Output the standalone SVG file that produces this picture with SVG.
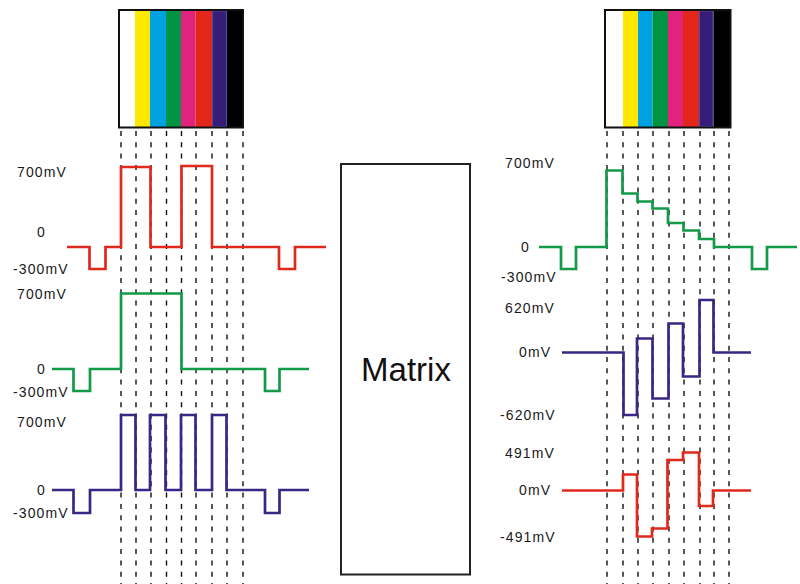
<svg xmlns="http://www.w3.org/2000/svg" width="800" height="584" viewBox="0 0 800 584">
<style>
.lbl{font-family:"Liberation Sans",Arial,sans-serif;font-size:14px;letter-spacing:1.1px;fill:#1a1a1a}
.dash{stroke:#111;stroke-width:1.4;stroke-dasharray:5 6.3;fill:none}
.wave{fill:none;stroke-width:2.7;stroke-linejoin:miter;stroke-linecap:butt}
.red{stroke:#e0281c}
.green{stroke:#129a48}
.purple{stroke:#3a2684}
</style>
<rect width="800" height="584" fill="#fff"/>

<g id="colorbar-left">
<rect x="118" y="10" width="17" height="118" fill="#fff"/>
<rect x="135" y="10" width="15" height="118" fill="#ffe800"/>
<rect x="150" y="10" width="16" height="118" fill="#00a2e2"/>
<rect x="166" y="10" width="15" height="118" fill="#009444"/>
<rect x="181" y="10" width="14.5" height="118" fill="#e2237e"/>
<rect x="195.5" y="10" width="16.5" height="118" fill="#e2261a"/>
<rect x="212.5" y="11" width="14" height="115.5" fill="#361e78" stroke="#4a4ea8" stroke-width="1"/>
<rect x="227" y="10" width="16" height="118" fill="#000"/>
<rect x="119" y="10" width="124" height="117.5" fill="none" stroke="#111" stroke-width="2"/>
</g>

<g id="colorbar-right">
<rect x="604" y="10" width="19" height="118" fill="#fff"/>
<rect x="623" y="10" width="15" height="118" fill="#ffe800"/>
<rect x="638" y="10" width="14.5" height="118" fill="#00a2e2"/>
<rect x="652.5" y="10" width="15.5" height="118" fill="#009444"/>
<rect x="668" y="10" width="15" height="118" fill="#e2237e"/>
<rect x="683" y="10" width="16" height="118" fill="#e2261a"/>
<rect x="699.5" y="11" width="13.5" height="115.5" fill="#361e78" stroke="#4a4ea8" stroke-width="1"/>
<rect x="713.5" y="10" width="17" height="118" fill="#000"/>
<rect x="605" y="10" width="125.5" height="117.5" fill="none" stroke="#111" stroke-width="2"/>
</g>

<g id="connectors">
<path class="dash" d="M121,131V584M136,131V584M151,131V584M166.5,131V584M181.5,131V584M196,131V584M212,131V584M227,131V584M243,131V584"/>
<path class="dash" d="M607,131V584M623,131V584M638,131V584M653,131V584M669,131V584M684,131V584M700,131V584M714,131V584M729,131V584"/>
</g>

<g id="matrix">
<rect x="341" y="164" width="129" height="410.5" fill="#fff" stroke="#222" stroke-width="2"/>
<text x="406" y="381" text-anchor="middle" font-family="Liberation Sans, Arial, sans-serif" font-size="33" fill="#111">Matrix</text>
</g>

<g id="left-red">
<path class="wave red" d="M67,247H89.5V269H105.5V247H121V167H150.5V247H181.5V166H212V247H279V269H295V247H326"/>
<text class="lbl" x="17" y="177">700mV</text>
<text class="lbl" x="37" y="237">0</text>
<text class="lbl" x="13" y="274">-300mV</text>
</g>

<g id="left-green">
<path class="wave green" d="M52,369H73.5V391H90V369H121V293.5H181.5V369H265V391H279.5V369H309"/>
<text class="lbl" x="17" y="299">700mV</text>
<text class="lbl" x="37" y="374">0</text>
<text class="lbl" x="13" y="397">-300mV</text>
</g>

<g id="left-blue">
<path class="wave purple" d="M52,490H73.5V513H90V490H121V415H135.5V490H150V415H165.5V490H181V415H195.5V490H212V415H226.5V490H265V513H279.5V490H309"/>
<text class="lbl" x="17" y="427">700mV</text>
<text class="lbl" x="37" y="495">0</text>
<text class="lbl" x="13" y="518">-300mV</text>
</g>

<g id="right-green">
<path class="wave green" d="M539,247H561V269H576V247H606.5V170.5H622.5V193.5H637.5V201.5H652.5V208.5H668V223H683.5V230.5H699V239H714V247H752V269H767V247H797"/>
<text class="lbl" x="505" y="168">700mV</text>
<text class="lbl" x="521" y="252">0</text>
<text class="lbl" x="501" y="282">-300mV</text>
</g>

<g id="right-purple">
<path class="wave purple" d="M562,352.5H623.5V415H637V338.5H652.5V398.5H668.5V323.5H683V376.5H699.5V300H713.5V352.5H751"/>
<text class="lbl" x="505" y="313">620mV</text>
<text class="lbl" x="519" y="357">0mV</text>
<text class="lbl" x="500" y="420">-620mV</text>
</g>

<g id="right-red">
<path class="wave red" d="M562,490.5H623V474.5H637V536.5H652V528.5H667.5V460H683V452.5H699V506H713V490.5H751"/>
<text class="lbl" x="505" y="458">491mV</text>
<text class="lbl" x="519" y="495">0mV</text>
<text class="lbl" x="500" y="542">-491mV</text>
</g>
</svg>
